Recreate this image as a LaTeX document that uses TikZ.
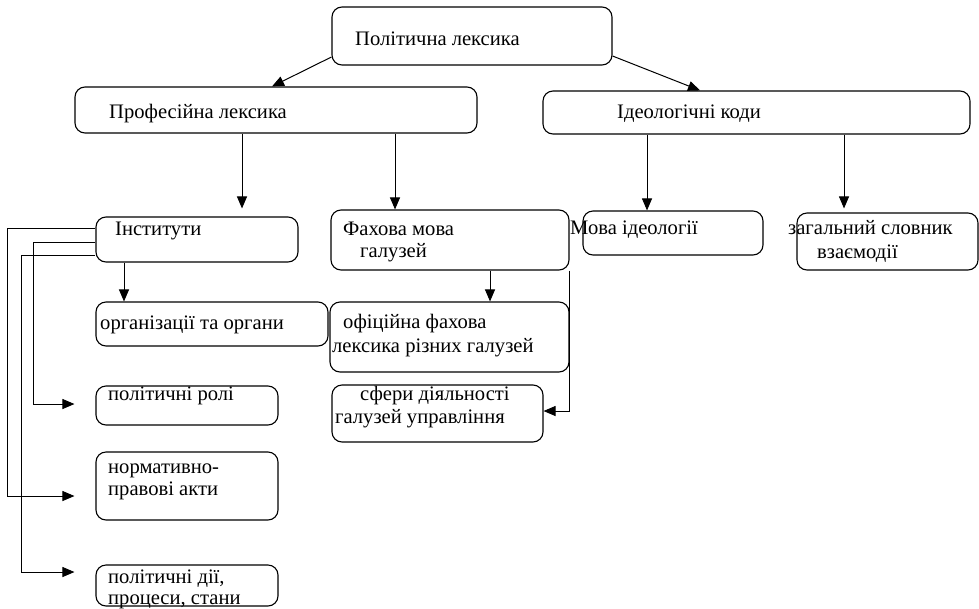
\documentclass[tikz,border=0pt]{standalone}
\usepackage{fontspec}
\setmainfont{Liberation Serif}
\usetikzlibrary{arrows.meta}

\begin{document}
\begin{tikzpicture}[x=1pt,y=-1pt]
\tikzstyle{every node}+=[inner sep=0pt]
\tikzstyle{box}=[draw=black,line width=1.1pt,rounded corners=10pt]
\tikzstyle{txt}=[anchor=base west,font=\fontsize{20.6}{23}\selectfont]
\tikzstyle{arr}=[black,line width=1pt,-{Triangle[length=12pt,width=10pt]}]
\useasboundingbox (0,0) rectangle (979,608);
\node[box,minimum width=280pt,minimum height=58pt] (pol) at (472,36) {};
\node[box,minimum width=402pt,minimum height=46pt] (prof) at (276,110) {};
\node[box,minimum width=427pt,minimum height=43pt] (ideo) at (756.5,112.5) {};
\node[box,minimum width=202pt,minimum height=45pt] (inst) at (197,239.5) {};
\node[box,minimum width=238pt,minimum height=60pt] (fah) at (450,240) {};
\node[box,minimum width=180pt,minimum height=44pt] (mova) at (673,233) {};
\node[box,minimum width=181pt,minimum height=57pt] (zag) at (887.5,241.5) {};
\node[box,minimum width=232pt,minimum height=44pt] (org) at (212,324) {};
\node[box,minimum width=239pt,minimum height=70pt] (ofic) at (449.5,337) {};
\node[box,minimum width=211pt,minimum height=57pt] (sfer) at (437.5,413.5) {};
\node[box,minimum width=182pt,minimum height=39pt] (rol) at (187,405.5) {};
\node[box,minimum width=182pt,minimum height=68pt] (norm) at (187,486) {};
\node[box,minimum width=182pt,minimum height=41pt] (dii) at (187,585.5) {};
\node[txt] (poltxt) at (355,45) {Політична лексика};
\node[txt] (proftxt) at (109,118) {Професійна лексика};
\node[txt] (ideotxt) at (617,118) {Ідеологічні коди};
\node[txt] (insttxt) at (115,235) {Інститути};
\node[txt] (fahtxta) at (343,235) {Фахова мова};
\node[txt] (fahtxtb) at (360,257) {галузей};
\node[txt] (movatxt) at (570,234) {Мова ідеології};
\node[txt] (zagtxta) at (788,234) {загальний словник};
\node[txt] (zagtxtb) at (817,258) {взаємодії};
\node[txt] (orgtxt) at (100,329) {організації та органи};
\node[txt] (ofictxta) at (343,328) {офіційна фахова};
\node[txt] (ofictxtb) at (332,352) {лексика різних галузей};
\node[txt] (sfertxta) at (360,400) {сфери діяльності};
\node[txt] (sfertxtb) at (335,423) {галузей управління};
\node[txt] (roltxt) at (108,400) {політичні ролі};
\node[txt] (normtxta) at (108,473) {нормативно-};
\node[txt] (normtxtb) at (108,495) {правові акти};
\node[txt] (diitxta) at (108,583) {політичні дії,};
\node[txt] (diitxtb) at (108,604) {процеси, стани};
\draw[arr] (pol.west |- 0,57) -- ([xshift=-4pt]prof.north);
\draw[arr] (pol.east |- 0,56) -- (ideo.north -| 700,0);
\draw[arr,shorten >=8pt] (prof.south -| 242,0) -- (inst.north -| 242,0);
\draw[arr] (prof.south -| 395,0) -- (fah.north -| 395,0);
\draw[arr] (ideo.south -| 647,0) -- (mova.north -| 647,0);
\draw[arr,shorten >=4pt] (ideo.south -| 844,0) -- (zag.north -| 844,0);
\draw[arr] (inst.south -| 124,0) -- (org.north -| 124,0);
\draw[arr] (fah.south -| 490,0) -- (ofic.north -| 490,0);
\draw[arr] (fah.south east) |- (sfer.east |- 0,411);
\draw[arr,shorten >=21pt] (inst.west |- 0,228) -| (7,496) -- (norm.west |- 0,496);
\draw[arr,shorten >=21pt] (inst.west |- 0,242) -| (33,404) -- (rol.west |- 0,404);
\draw[arr,shorten >=21pt] (inst.west |- 0,255) -| (21,572) -- (dii.west |- 0,572);
\end{tikzpicture}
\end{document}
